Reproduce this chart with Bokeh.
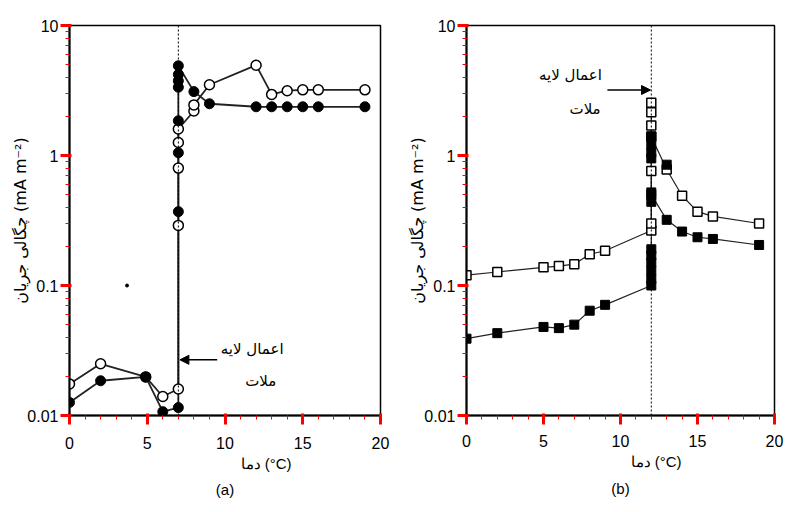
from bokeh.plotting import figure
from bokeh.layouts import row
from bokeh.models import (Range1d, FixedTicker, CustomJSTickFormatter, Span, Arrow,
                          NormalHead, Label, Title)
from bokeh.embed import file_html
from bokeh.resources import INLINE

# ---------------- data ----------------
x_ticks = [0, 5, 10, 15, 20]
x_minor = [i for i in range(0, 21)]
y_ticks = [0.01, 0.1, 1, 10]
y_minor = [0.02, 0.03, 0.04, 0.05, 0.06, 0.07, 0.08, 0.09,
           0.2, 0.3, 0.4, 0.5, 0.6, 0.7, 0.8, 0.9,
           2, 3, 4, 5, 6, 7, 8, 9]

# panel (a)
a_open_x = [0, 2, 4.9, 6, 7, 7, 7, 7, 7, 8, 8, 9, 12, 13, 14, 15, 16, 19]
a_open_y = [0.0175, 0.025, 0.0198, 0.014, 0.016, 0.29, 0.8, 1.26, 1.6, 2.2, 2.45,
            3.5, 4.95, 2.95, 3.15, 3.2, 3.2, 3.2]
a_fill_x = [0, 2, 4.9, 6, 7, 7, 7, 7, 7, 7, 7, 7, 8, 9, 12, 13, 14, 15, 16, 19]
a_fill_y = [0.0126, 0.0185, 0.0198, 0.0107, 0.0115, 0.37, 1.05, 1.85, 3.35, 3.75,
            4.2, 4.9, 3.1, 2.5, 2.37, 2.37, 2.37, 2.37, 2.37, 2.37]
a_dot_x = [3.7]
a_dot_y = [0.1]
a_onset = 7

# panel (b)
b_open_x = [0, 2, 5, 6, 7, 8, 9, 12, 12, 12, 12, 12, 12, 12, 13, 14, 15, 16, 19]
b_open_y = [0.12, 0.127, 0.138, 0.141, 0.146, 0.174, 0.185, 0.265, 0.3, 0.76, 1.7,
            2.15, 2.55, 1.4, 0.78, 0.49, 0.37, 0.34, 0.3]
b_fill_x = [0, 2, 5, 6, 7, 8, 9, 12, 12, 12, 12, 12, 12, 12, 12, 12, 12, 12, 12,
            12, 13, 14, 15, 16, 19]
b_fill_y = [0.039, 0.043, 0.048, 0.047, 0.05, 0.064, 0.071, 0.1, 0.112, 0.13, 0.15,
            0.17, 0.19, 0.44, 0.52, 0.95, 1.05, 1.2, 1.4, 0.5, 0.32, 0.26, 0.235,
            0.228, 0.205]
b_extra_x = [13]
b_extra_y = [0.85]
b_onset = 12

y_label = "چگالی جریان (mA m⁻²)"
x_label = "دما (°C)"
note1 = "اعمال لایه"
note2 = "ملات"

FONT = "Liberation Sans"
H = 510


def make_fig(w, bl, br, bt, bb, lab_standoff):
    p = figure(width=w, height=H, x_range=Range1d(0, 20), y_range=Range1d(0.01, 10),
               y_axis_type="log", output_backend="svg", toolbar_location=None,
               min_border_left=bl, min_border_right=br, min_border_top=bt,
               min_border_bottom=bb)
    p.xgrid.grid_line_color = None
    p.ygrid.grid_line_color = None
    p.outline_line_color = "black"
    p.outline_line_width = 1.5
    p.xaxis.ticker = FixedTicker(ticks=x_ticks, minor_ticks=x_minor)
    p.yaxis.ticker = FixedTicker(ticks=y_ticks, minor_ticks=y_minor)
    p.yaxis.formatter = CustomJSTickFormatter(code="return tick.toString()")
    p.xaxis.major_tick_line_color = "red"
    p.xaxis.minor_tick_line_color = "red"
    p.yaxis.major_tick_line_color = "red"
    p.yaxis.minor_tick_line_color = "red"
    p.xaxis.major_tick_line_width = 3
    p.yaxis.major_tick_line_width = 3
    p.xaxis.major_tick_out = 9
    p.yaxis.major_tick_out = 9
    p.xaxis.axis_line_width = 2
    p.yaxis.axis_line_width = 2
    p.xaxis.major_label_text_font = FONT
    p.yaxis.major_label_text_font = FONT
    p.xaxis.major_label_text_font_size = "16px"
    p.yaxis.major_label_text_font_size = "16px"
    p.xaxis.major_label_text_color = "black"
    p.yaxis.major_label_text_color = "black"
    p.yaxis.major_label_standoff = 2
    p.xaxis.major_label_standoff = lab_standoff
    p.yaxis.axis_label = y_label
    p.yaxis.axis_label_text_color = "black"
    p.yaxis.axis_label_text_font = "DejaVu Sans"
    p.yaxis.axis_label_text_font_size = "16px"
    p.yaxis.axis_label_text_font_style = "normal"
    p.yaxis.axis_label_standoff = -6
    return p


def label(p, x, y, t):
    p.add_layout(Label(x=x, y=y, text=t, text_align="center", text_baseline="middle",
                       text_font="DejaVu Sans", text_font_size="15px",
                       text_color="black"))


def titles(p, off, tag, tag_standoff):
    p.add_layout(Title(text=x_label, align="left", offset=off, text_font=FONT,
                       text_font_size="15px", text_font_style="normal",
                       text_color="black", standoff=2), "below")
    p.add_layout(Title(text=tag, align="center", text_font=FONT,
                       text_font_size="15px", text_font_style="normal",
                       text_color="black", standoff=tag_standoff), "below")


# ---------------- panel (a) ----------------
pa = make_fig(400, 69, 20, 22, H - 415, 12)
pa.add_layout(Span(location=a_onset, dimension="height", line_dash="2 2",
                   line_color="black", line_width=1))
pa.line(a_open_x, a_open_y, line_color="#222222", line_width=1.8)
pa.line(a_fill_x, a_fill_y, line_color="#222222", line_width=1.8)
pa.scatter(a_open_x, a_open_y, marker="circle", size=10, fill_color="white",
           line_color="black", line_width=1.5)
pa.scatter(a_fill_x, a_fill_y, marker="circle", size=10, fill_color="black",
           line_color="black")
pa.scatter(a_dot_x, a_dot_y, marker="circle", size=3, fill_color="black",
           line_color="black")
pa.add_layout(Arrow(end=NormalHead(size=9, fill_color="black", line_color="black"),
                    x_start=9.5, y_start=0.0268, x_end=7.1, y_end=0.0268,
                    line_width=1.5, line_color="black"))
label(pa, 11.75, 0.0325, note1)
label(pa, 12.3, 0.0185, note2)
titles(pa, 171, "(a)", 12)

# ---------------- panel (b) ----------------
pb = make_fig(390, 66, 16, 25, H - 420, 10)
pb.add_layout(Span(location=b_onset, dimension="height", line_dash="2 2",
                   line_color="black", line_width=1))
pb.line(b_open_x, b_open_y, line_color="#222222", line_width=1.2)
pb.line(b_fill_x, b_fill_y, line_color="#222222", line_width=1.2)
pb.scatter(b_open_x, b_open_y, marker="square", size=9, fill_color="white",
           line_color="black", line_width=1.5)
pb.scatter(b_fill_x, b_fill_y, marker="square", size=9, fill_color="black",
           line_color="black")
pb.scatter(b_extra_x, b_extra_y, marker="square", size=9, fill_color="black",
           line_color="black")
pb.add_layout(Arrow(end=NormalHead(size=9, fill_color="black", line_color="black"),
                    x_start=9.15, y_start=3.19, x_end=11.95, y_end=3.19,
                    line_width=1.5, line_color="black"))
label(pb, 6.75, 4.15, note1)
label(pb, 7.7, 2.28, note2)
titles(pb, 164, "(b)", 15)

layout = row(pa, pb)
open("out.html", "w").write(file_html(layout, INLINE))
